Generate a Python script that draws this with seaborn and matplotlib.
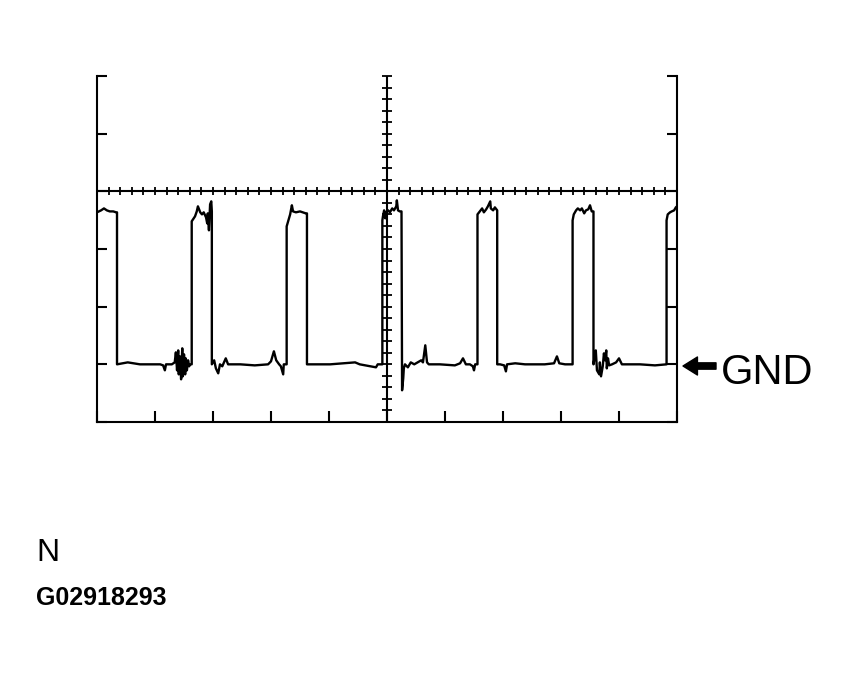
import numpy as np
import pandas as pd
import matplotlib
matplotlib.use("Agg")
import matplotlib.pyplot as plt
import seaborn as sns

# ---- data (time in ms at 1 ms/div, volts at 5 V/div) ----
t_ms = [
    0.00, 0.07, 0.12, 0.17, 0.22, 0.28, 0.33, 0.345,
    0.345, 0.53, 0.74, 1.09, 1.14, 1.17, 1.19, 1.29, 1.34, 1.36, 1.38, 1.40, 1.41, 1.43, 1.45,
    1.47, 1.48, 1.50, 1.52, 1.53, 1.55, 1.57, 1.59, 1.60, 1.633,
    1.633, 1.655, 1.69, 1.72, 1.74, 1.78, 1.81, 1.84, 1.88, 1.90, 1.91, 1.93, 1.95, 1.97, 1.98,
    1.98, 2.02, 2.05, 2.09, 2.12, 2.16, 2.19, 2.22, 2.26, 2.47, 2.72, 2.95, 3.00, 3.05, 3.09,
    3.14, 3.17, 3.21, 3.22, 3.27,
    3.27, 3.29, 3.33, 3.34, 3.36, 3.38, 3.43, 3.50, 3.55, 3.60, 3.62,
    3.62, 4.02, 4.45, 4.53, 4.81, 4.84, 4.92,
    4.92, 4.93, 4.95, 4.97, 4.98, 5.02, 5.05, 5.09, 5.12, 5.16, 5.17, 5.19, 5.22, 5.25,
    5.26, 5.28, 5.29, 5.31, 5.36, 5.41, 5.47, 5.53, 5.59, 5.62, 5.66, 5.69, 5.72, 5.91, 6.17,
    6.26, 6.31, 6.36, 6.43, 6.48, 6.50, 6.52, 6.56,
    6.56, 6.60, 6.64, 6.67, 6.71, 6.74, 6.78, 6.79, 6.83, 6.86, 6.90,
    6.90, 6.95, 7.02, 7.05, 7.07, 7.21, 7.38, 7.72, 7.88, 7.93, 7.97, 8.07, 8.20,
    8.20, 8.22, 8.26, 8.29, 8.33, 8.36, 8.40, 8.43, 8.47, 8.50, 8.53, 8.56,
    8.56, 8.60, 8.62, 8.66, 8.67, 8.69, 8.72, 8.74, 8.76, 8.78, 8.79, 8.81, 8.83, 8.88, 8.95,
    9.00, 9.05, 9.36, 9.62, 9.82,
    9.82, 9.84, 9.88, 9.91, 9.95, 9.98, 10.00,
]
volts = [
    13.18, 13.35, 13.52, 13.35, 13.26, 13.26, 13.18, 13.18,
    0.00, 0.17, 0.00, 0.00, -0.09, -0.52, 0.00, 0.00, 0.17, 1.04, -0.52, 1.21, -0.87, 0.69, -1.30,
    1.39, -1.04, 0.87, -0.87, 0.52, -0.52, 0.35, -0.17, 0.00, 0.00,
    12.40, 12.57, 12.83, 13.26, 13.70, 13.18, 13.00, 13.18, 12.74, 12.22, 13.09, 11.62, 13.87, 14.13, 13.26,
    0.00, 0.35, -0.35, -0.78, 0.00, -0.17, 0.17, 0.52, 0.00, 0.00, -0.09, 0.00, 0.26, 1.13, 0.35,
    0.00, -0.17, -0.87, 0.00, 0.00,
    11.96, 12.31, 13.00, 13.26, 13.79, 13.26, 13.18, 13.26, 13.18, 13.09, 13.09,
    0.00, 0.00, 0.17, 0.00, -0.26, 0.00, 0.00,
    12.48, 12.83, 13.35, 12.66, 13.18, 13.35, 13.18, 13.52, 13.35, 13.70, 14.22, 13.35, 13.26, 13.26,
    -2.25, -1.21, -0.35, 0.00, -0.26, 0.17, 0.00, 0.17, 0.35, 0.17, 1.65, 0.17, 0.00, 0.00, -0.09,
    0.09, 0.52, 0.00, 0.00, -0.17, -0.52, 0.00, 0.00,
    13.00, 13.26, 13.52, 13.18, 13.44, 13.70, 14.13, 13.52, 13.35, 13.61, 13.35,
    0.00, 0.00, -0.09, -0.61, 0.00, 0.09, 0.00, 0.00, 0.09, 0.69, 0.09, 0.00, 0.00,
    12.48, 13.00, 13.35, 13.52, 13.35, 13.52, 13.09, 13.35, 13.44, 13.79, 13.26, 13.26,
    0.00, 1.21, -0.52, -0.87, 0.17, -1.04, -0.17, 0.95, 0.35, 1.21, -0.35, 0.52, -0.09, 0.00, 0.17,
    0.52, 0.00, 0.00, -0.09, 0.00,
    12.48, 13.00, 13.18, 13.26, 13.35, 13.61, 13.70,
]
time_divisions = list(range(0, 11))          # ms, 1 ms/div
volt_divisions = [-5, 0, 5, 10, 15, 20, 25]  # V, 5 V/div
gnd_label = "GND"
view_label = "N"
figure_id = "G02918293"

df = pd.DataFrame({"t_ms": t_ms, "volts": volts})

sns.set_style("white")
plt.rcParams["font.family"] = ["Liberation Sans", "DejaVu Sans"]

W, H = 848, 681
fig = plt.figure(figsize=(W / 100, H / 100), dpi=100)
ax = fig.add_axes([97 / W, (H - 422) / H, 580 / W, 346 / H])

LW = 1.5
sns.lineplot(data=df, x="t_ms", y="volts", ax=ax, color="black", linewidth=1.7,
             estimator=None, sort=False, legend=False)

ax.set_xlim(time_divisions[0], time_divisions[-1])
ax.set_ylim(volt_divisions[0], volt_divisions[-1])
ax.set_xlabel("")
ax.set_ylabel("")

for side in ("left", "right", "bottom"):
    ax.spines[side].set_visible(True)
    ax.spines[side].set_color("black")
    ax.spines[side].set_linewidth(LW)
ax.spines["top"].set_visible(False)

ax.set_xticks(time_divisions)
ax.set_yticks(volt_divisions)
ax.tick_params(axis="x", direction="in", length=8, width=LW, color="black",
               bottom=True, top=False, labelbottom=False)
ax.tick_params(axis="y", direction="in", length=7.5, width=LW, color="black",
               left=True, right=True, labelleft=False, labelright=False)

# centre graticule lines with their fine ticks
t_center = time_divisions[len(time_divisions) // 2]
v_center = 15
ax.axhline(v_center, color="black", linewidth=LW)
ax.axvline(t_center, color="black", linewidth=LW)
fine_t = np.arange(time_divisions[0], time_divisions[-1] + 1e-9, 0.2)
fine_v = np.arange(volt_divisions[0], volt_divisions[-1] + 1e-9, 1.0)
ax.plot(fine_t, np.full_like(fine_t, v_center), linestyle="none", marker="|",
        markersize=6, markeredgewidth=1.3, color="black", clip_on=False)
ax.plot(np.full_like(fine_v, t_center), fine_v, linestyle="none", marker="_",
        markersize=7.5, markeredgewidth=1.3, color="black", clip_on=False)

# GND marker
ax.annotate("", xy=(683, H - 366), xycoords="figure pixels",
            xytext=(716, H - 366), textcoords="figure pixels",
            arrowprops=dict(arrowstyle="simple,head_length=0.8,head_width=1.0,tail_width=0.35",
                            color="black", shrinkA=0, shrinkB=0, mutation_scale=13))
fig.text(721 / W, (H - 384) / H, gnd_label, fontsize=30, ha="left", va="baseline", color="black")

fig.text(36 / W, (H - 561) / H, view_label, fontsize=23, ha="left", va="baseline", color="black")
fig.text(36 / W, (H - 605) / H, figure_id, fontsize=18, fontweight="bold",
         ha="left", va="baseline", color="black")

fig.savefig("out.png", dpi=100)
